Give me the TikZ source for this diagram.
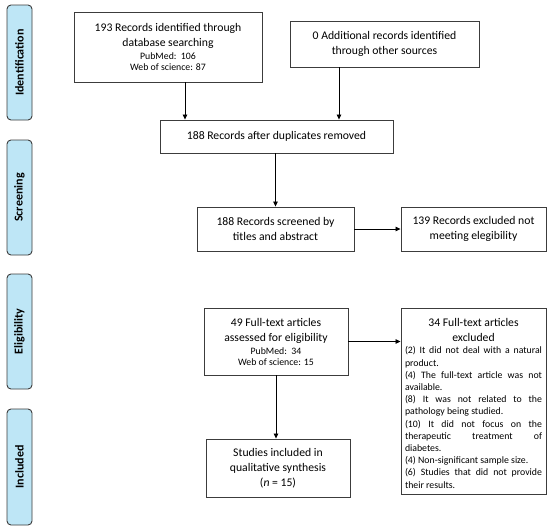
\documentclass[tikz,border=0pt]{standalone}
\usepackage{fontspec}
\setmainfont{Carlito}
\usetikzlibrary{arrows.meta}
\definecolor{sidefill}{HTML}{BEE6F6}
\definecolor{edge}{HTML}{3C3C3C}
\tikzset{
  box/.style={draw=edge, line width=0.9pt, fill=white, align=center, inner sep=2pt,
    font=\fontsize{11.7}{15}\selectfont},
  side/.style={draw=edge, line width=0.9pt, fill=sidefill, rounded corners=4pt,
    minimum width=25pt, minimum height=115pt},
  sidetext/.style={rotate=90, font=\bfseries\fontsize{12}{14}\selectfont},
  arr/.style={-{Triangle[length=5pt,width=4.5pt]}, draw=black, line width=0.8pt},
}
\newcommand{\smalltxt}{\fontsize{9.8}{11.8}\selectfont}
\newcommand{\listtxt}{\fontsize{9.8}{12.2}\selectfont}
\begin{document}
\begin{tikzpicture}[x=1pt,y=-1pt]
\useasboundingbox[fill=white] (0,0) rectangle (550,531);
% side labels
\node[side] (s1) at (19.5,62.5) {};
\node[sidetext] at (s1.center) {Identification};
\node[side] (s2) at (19.5,197.5) {};
\node[sidetext] at (s2.center) {Screening};
\node[side] (s3) at (19.5,331.5) {};
\node[sidetext] at (s3.center) {Eligibility};
\node[side, minimum height=116pt] (s4) at (19.5,467) {};
\node[sidetext] at (s4.center) {Included};
% boxes
\node[box, minimum width=188pt, minimum height=70pt] (b1) at (168,47)
  {193 Records identified through\\database searching\\[-2pt]{\smalltxt PubMed:\ \ 106}\\[-4pt]{\smalltxt Web of science: 87}};
\node[box, minimum width=189pt, minimum height=46pt] (b2) at (384.5,44)
  {0 Additional records identified\\through other sources};
\node[box, minimum width=233pt, minimum height=33pt] (b3) at (276.5,136.5)
  {188 Records after duplicates removed};
\node[box, minimum width=157pt, minimum height=44pt] (b4) at (275.5,229)
  {188 Records screened by\\titles and abstract};
\node[box, minimum width=145pt, minimum height=44pt] (b5) at (473.5,229)
  {139 Records excluded not\\meeting elegibility};
\node[box, minimum width=144pt, minimum height=67pt] (b6) at (276,341.5)
  {49 Full-text articles\\assessed for eligibility\\[-2pt]{\smalltxt PubMed:\ \ 34}\\[-4pt]{\smalltxt Web of science: 15}};
\node[box, minimum width=145pt, minimum height=186pt, anchor=north, inner sep=0pt] (b7) at (473.5,308)
  {\begin{minipage}[t]{137pt}\vspace{4pt}\centering\fontsize{11.7}{15}\selectfont
   34 Full-text articles\\excluded\par
   \listtxt\leftskip=0pt\rightskip=0pt\parfillskip=0pt plus 1fil\parindent=0pt
   \hyphenpenalty=10000\exhyphenpenalty=10000\tolerance=9999\emergencystretch=20pt
   (2) It did not deal with a natural product.\par
   (4) The full-text article was not available.\par
   (8) It was not related to the pathology being studied.\par
   (10) It did not focus on the therapeutic treatment of\linebreak diabetes.\par
   (4) Non-significant sample size.\par
   (6) Studies that did not provide their results.\par
   \end{minipage}};
\node[box, minimum width=144pt, minimum height=58pt] (b8) at (278,468)
  {Studies included in\\qualitative synthesis\\(\textit{n} = 15)};
% connectors
\draw[arr] ([xshift=17pt]b1.south) -- ([xshift=17pt]b1.south |- b3.north);
\draw[arr] ([xshift=-45.5pt]b2.south) -- ([xshift=-45.5pt]b2.south |- b3.north);
\draw[arr] (b4.north |- b3.south) -- (b4.north);
\draw[arr] (b4.east) -- (b5.west);
\draw[arr] (b6.east) -- (b6.east -| b7.west);
\draw[arr] (b6.south) -- (b6.south |- b8.north);
\end{tikzpicture}
\end{document}
